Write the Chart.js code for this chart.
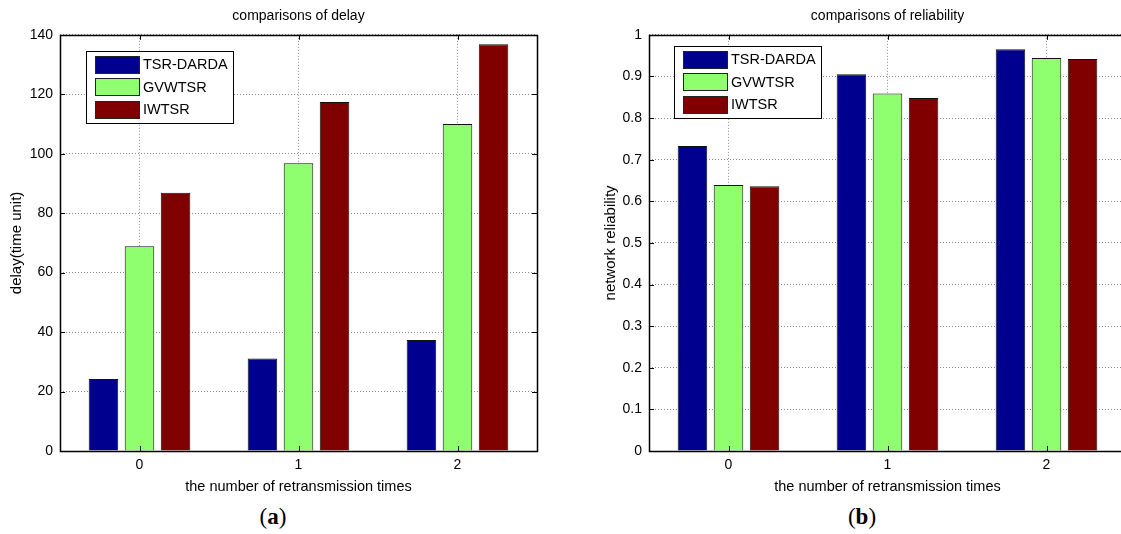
<!DOCTYPE html>
<html>
<head>
<meta charset="utf-8">
<script src="https://cdn.jsdelivr.net/npm/chart.js@4.4.0/dist/chart.umd.min.js"></script>
<style>
  body { margin: 0; background: #fff; overflow: hidden; }
  #page { position: relative; width: 1121px; height: 534px; overflow: hidden; background: #fff; }
  .wrap { position: absolute; top: 0; }
  .cap { position: absolute; top: 504px; width: 80px; text-align: center;
         font-family: "Liberation Serif", "DejaVu Serif", serif; font-size: 23px; line-height: 26px; color: #000; }
</style>
</head>
<body>
<div id="page">
  <div class="wrap" style="left:0px"><canvas id="delayChart" width="560" height="503"></canvas></div>
  <div class="wrap" style="left:560px"><canvas id="relChart" width="580" height="503"></canvas></div>
  <div class="cap" style="left:233px">(<b>a</b>)</div>
  <div class="cap" style="left:822px">(<b>b</b>)</div>
</div>
<script>
// categorias e series
const categories = ['0', '1', '2'];
const seriesNames = ['TSR-DARDA', 'GVWTSR', 'IWTSR'];
const seriesColors = ['#00008F', '#8FFF70', '#800000'];

// (a) delay
const delayTsrDarda = [24.2, 31.1, 37.3];
const delayGvwtsr = [68.9, 96.8, 110.0];
const delayIwtsr = [86.9, 117.4, 136.8];
const delayTicks = [0, 20, 40, 60, 80, 100, 120, 140];

// (b) reliability
const relTsrDarda = [0.733, 0.905, 0.965];
const relGvwtsr = [0.639, 0.859, 0.944];
const relIwtsr = [0.636, 0.848, 0.942];
const relTicks = [0, 0.1, 0.2, 0.3, 0.4, 0.5, 0.6, 0.7, 0.8, 0.9, 1];

const FONT = '"Liberation Sans", Arial, sans-serif';

// legenda com caixa dentro da area do grafico (estilo matlab)
const boxLegend = {
    id: 'boxLegend',
    afterDatasetsDraw(chart, args, opts) {
        const ctx = chart.ctx;
        const a = chart.chartArea;
        const x = Math.round(a.left + opts.dx);
        const y = Math.round(a.top + opts.dy);
        const w = 147, h = 72;
        ctx.save();
        ctx.fillStyle = '#fff';
        ctx.fillRect(x, y, w, h);
        ctx.strokeStyle = '#000';
        ctx.lineWidth = 1;
        ctx.strokeRect(x + 0.5, y + 0.5, w, h);
        ctx.font = '14.5px ' + FONT;
        ctx.textBaseline = 'middle';
        chart.data.datasets.forEach((ds, i) => {
            const cy = y + 13 + i * 22.5;
            ctx.fillStyle = ds.backgroundColor;
            ctx.fillRect(x + 9, Math.round(cy - 8.5), 44, 17);
            ctx.strokeStyle = '#222';
            ctx.strokeRect(x + 9.5, Math.round(cy - 8.5) + 0.5, 44, 17);
            ctx.fillStyle = '#000';
            ctx.fillText(ds.label, x + 57, cy + 1);
        });
        ctx.restore();
    }
};

// moldura e marcas de escala para dentro
const frame = {
    id: 'frame',
    afterDraw(chart) {
        const ctx = chart.ctx;
        const a = chart.chartArea;
        const xs = chart.scales.x, ys = chart.scales.y;
        ctx.save();
        ctx.strokeStyle = '#000';
        ctx.lineWidth = 1;
        ctx.beginPath();
        ys.ticks.forEach(t => {
            const py = Math.round(ys.getPixelForValue(t.value)) + 0.5;
            ctx.moveTo(a.left, py); ctx.lineTo(a.left + 5, py);
            ctx.moveTo(a.right, py); ctx.lineTo(a.right - 5, py);
        });
        xs.ticks.forEach((t, i) => {
            const px = Math.round(xs.getPixelForTick(i)) + 0.5;
            ctx.moveTo(px, a.bottom); ctx.lineTo(px, a.bottom - 5);
            ctx.moveTo(px, a.top); ctx.lineTo(px, a.top + 5);
        });
        ctx.stroke();
        ctx.lineWidth = 1.5;
        ctx.strokeRect(Math.round(a.left) + 0.5, Math.round(a.top) + 0.5,
                       Math.round(a.right - a.left), Math.round(a.bottom - a.top));
        ctx.restore();
    }
};

function criaGrafico(id, titulo, yTitulo, valores, ticks, yWidth, padding, legendPos) {
    const datasets = seriesNames.map((nome, i) => ({
        label: nome,
        data: valores[i],
        backgroundColor: seriesColors[i],
        borderColor: '#111',
        borderWidth: 1,
        borderSkipped: 'bottom',
        categoryPercentage: 0.68,
        barPercentage: 0.82
    }));

    return new Chart(document.getElementById(id), {
        type: 'bar',
        data: { labels: categories, datasets: datasets },
        options: {
            responsive: false,
            devicePixelRatio: 1,
            animation: false,
            layout: { padding: padding },
            plugins: {
                legend: { display: false },
                tooltip: { enabled: false },
                title: {
                    display: true,
                    text: titulo,
                    fullSize: false,
                    color: '#000',
                    font: { family: FONT, size: 14, weight: 'normal' },
                    padding: { top: 8, bottom: 10 }
                },
                boxLegend: legendPos
            },
            scales: {
                x: {
                    offset: true,
                    grid: { offset: false, drawTicks: false, color: '#8a8a8a', lineWidth: 1 },
                    border: { display: false, dash: [1, 2] },
                    ticks: { color: '#000', padding: 6, font: { family: FONT, size: 14 } },
                    title: {
                        display: true,
                        text: 'the number of retransmission times',
                        color: '#000',
                        font: { family: FONT, size: 14.5 },
                        padding: { top: 2, bottom: 4 }
                    },
                    afterFit: s => { s.height = 49; }
                },
                y: {
                    min: ticks[0],
                    max: ticks[ticks.length - 1],
                    afterBuildTicks: s => { s.ticks = ticks.map(v => ({ value: v })); },
                    grid: { drawTicks: false, color: '#8a8a8a', lineWidth: 1 },
                    border: { display: false, dash: [1, 2] },
                    ticks: {
                        color: '#000',
                        padding: 7,
                        font: { family: FONT, size: 14 },
                        callback: v => String(v)
                    },
                    title: {
                        display: true,
                        text: yTitulo,
                        color: '#000',
                        font: { family: FONT, size: 15 },
                        padding: { top: 4, bottom: 4 }
                    },
                    afterFit: s => { s.width = yWidth; }
                }
            }
        },
        plugins: [boxLegend, frame]
    });
}

criaGrafico('delayChart', 'comparisons of delay', 'delay(time unit)',
    [delayTsrDarda, delayGvwtsr, delayIwtsr], delayTicks, 56,
    { top: 0, right: 23, bottom: 3, left: 4 }, { dx: 26, dy: 16 });

criaGrafico('relChart', 'comparisons of reliability', 'network reliability',
    [relTsrDarda, relGvwtsr, relIwtsr], relTicks, 51,
    { top: 0, right: 14, bottom: 3, left: 38 }, { dx: 25, dy: 11 });
</script>
</body>
</html>
